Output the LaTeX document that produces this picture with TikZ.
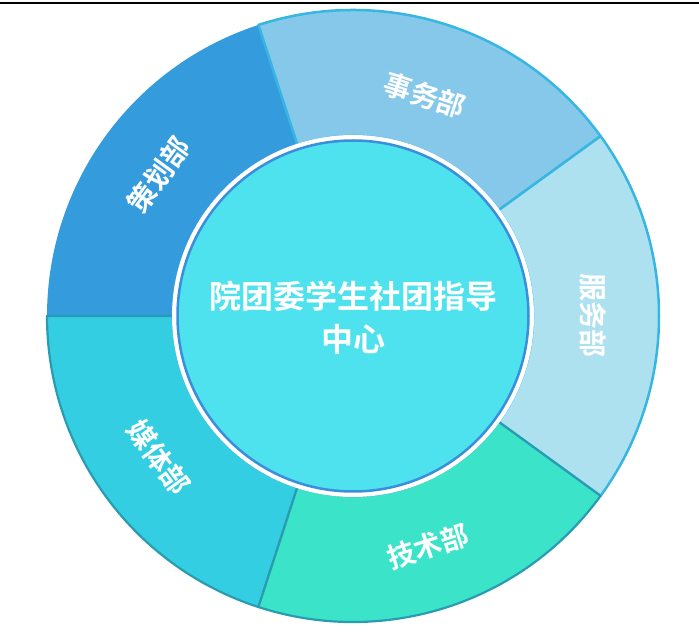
\documentclass[tikz,border=0pt]{standalone}
\usepackage{fontspec}
\newfontfamily\cjk{Noto Sans CJK SC}[BoldFont={Noto Sans CJK SC Bold}]
\definecolor{cehua}{HTML}{349CDD}
\definecolor{shiwu}{HTML}{85C8EA}
\definecolor{fuwu}{HTML}{AEE1F0}
\definecolor{jishu}{HTML}{3BE4C8}
\definecolor{meiti}{HTML}{34CEE3}
\definecolor{lightedge}{HTML}{38B6E2}
\definecolor{darkedge}{HTML}{2A9CB2}
\definecolor{hubfill}{HTML}{4EE2EF}
\definecolor{hubedge}{HTML}{3A8EDB}
\begin{document}
\begin{tikzpicture}[x=1pt,y=1pt,
  ringlabel/.style={text=white,font=\cjk\bfseries\fontsize{28}{30}\selectfont,inner sep=0pt},
  hublabel/.style={text=white,font=\cjk\bfseries\fontsize{32}{43}\selectfont,align=center,inner sep=0pt},
  litedge/.style={draw=lightedge,line width=2.5pt,line join=round},
  drkedge/.style={draw=darkedge,line width=2.2pt,line join=round}]
\useasboundingbox (0,0) rectangle (699,635);
\draw[line width=1.5pt] (0,632) -- (699,632);
\begin{scope}[shift={(353,319)}]
  % sectors
  \fill[cehua] (108:180) arc[start angle=108,end angle=180,radius=180] -- (180:306) arc[start angle=180,end angle=108,radius=306] -- cycle;
  \path[fill=shiwu,litedge] (36:180) arc[start angle=36,end angle=108,radius=180] -- (108:306) arc[start angle=108,end angle=36,radius=306] -- cycle;
  \path[fill=fuwu,litedge] (-36:180) arc[start angle=-36,end angle=36,radius=180] -- (36:306) arc[start angle=36,end angle=-36,radius=306] -- cycle;
  \path[fill=meiti,drkedge] (180:180) arc[start angle=180,end angle=252,radius=180] -- (252:306) arc[start angle=252,end angle=180,radius=306] -- cycle;
  \path[fill=jishu,drkedge] (252:180) arc[start angle=252,end angle=324,radius=180] -- (324:306) arc[start angle=324,end angle=252,radius=306] -- cycle;
  % hub
  \fill[white] (0,0) circle[radius=181];
  \node[circle,minimum size=351pt,fill=hubfill,draw=hubedge,line width=2.5pt,inner sep=0pt] (hub) at (0,0) {};
  \node[hublabel] (hubtext) at (0,-2) {院团委学生社团指导\\中心};
  % ring labels
  \node[ringlabel,rotate=54] (cehualabel) at (144:240) {策划部};
  \node[ringlabel,rotate=-18] (shiwulabel) at (72:232) {事务部};
  \node[ringlabel,rotate=-90] (fuwulabel) at (0:240) {服务部};
  \node[ringlabel,rotate=18] (jishulabel) at (288:242) {技术部};
  \node[ringlabel,rotate=-54] (meitilabel) at (216:240) {媒体部};
\end{scope}
\end{tikzpicture}
\end{document}
